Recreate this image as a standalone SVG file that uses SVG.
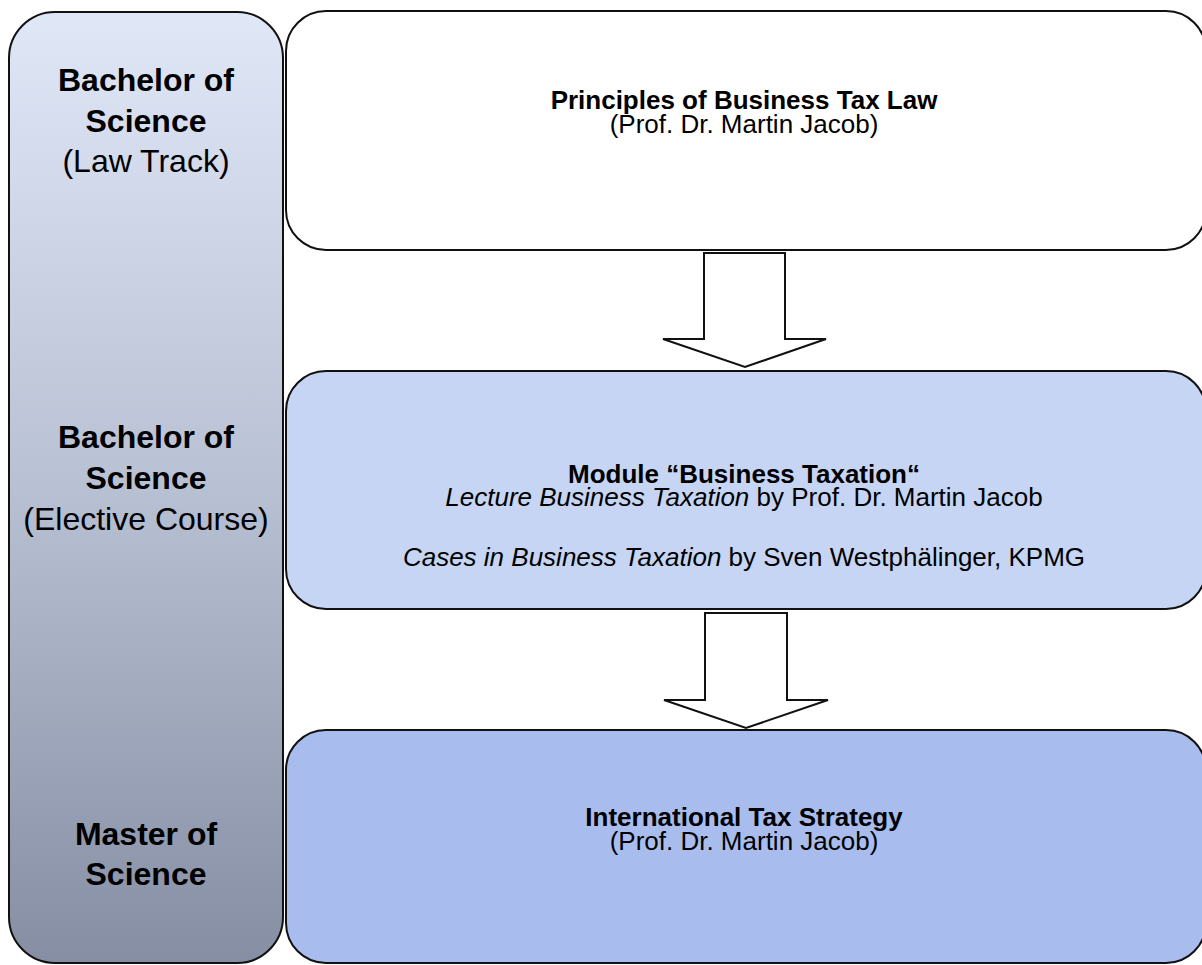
<svg xmlns="http://www.w3.org/2000/svg" width="1202" height="965" viewBox="0 0 1202 965">
<defs>
<linearGradient id="lg" x1="0" y1="0" x2="0" y2="1">
<stop offset="0" stop-color="#e0e7f7"/>
<stop offset="0.5" stop-color="#b8c0d3"/>
<stop offset="1" stop-color="#868ea4"/>
</linearGradient>
<style>
.box{stroke:#111;stroke-width:2}
.arrow{fill:#fff;stroke:#111;stroke-width:2;stroke-linejoin:miter}
text{font-family:"Liberation Sans",Arial,sans-serif;fill:#000;text-anchor:middle}
.lt{font-size:32px}
.rt{font-size:26px}
.b{font-weight:bold}
.i{font-style:italic}
</style>
</defs>
<rect width="1202" height="965" fill="#fff"/>
<g id="levels">
<rect class="box" x="9" y="12" width="274" height="951" rx="46" ry="46" fill="url(#lg)"/>
<text class="lt b" x="146" y="91">Bachelor of</text>
<text class="lt b" x="146" y="132">Science</text>
<text class="lt" x="146" y="172">(Law Track)</text>
<text class="lt b" x="146" y="448">Bachelor of</text>
<text class="lt b" x="146" y="489">Science</text>
<text class="lt" x="146" y="530">(Elective Course)</text>
<text class="lt b" x="146" y="845">Master of</text>
<text class="lt b" x="146" y="885">Science</text>
</g>
<g id="node-principles">
<rect class="box" x="286" y="11" width="920" height="239" rx="40" ry="40" fill="#fff"/>
<text class="rt b" x="744" y="109">Principles of Business Tax Law</text>
<text class="rt" x="744" y="133">(Prof. Dr. Martin Jacob)</text>
</g>
<g id="node-module">
<rect class="box" x="286" y="371" width="920" height="238" rx="40" ry="40" fill="#c6d5f3"/>
<text class="rt b" x="744" y="483">Module “Business Taxation“</text>
<text class="rt" x="744" y="506"><tspan class="i">Lecture Business Taxation</tspan> by Prof. Dr. Martin Jacob</text>
<text class="rt" x="744" y="566"><tspan class="i">Cases in Business Taxation</tspan> by Sven Westphälinger, KPMG</text>
</g>
<g id="node-its">
<rect class="box" x="286" y="730" width="920" height="233" rx="40" ry="40" fill="#a8bdee"/>
<text class="rt b" x="744" y="826">International Tax Strategy</text>
<text class="rt" x="744" y="850">(Prof. Dr. Martin Jacob)</text>
</g>
<g id="connectors">
<polygon class="arrow" points="704,253 785,253 785,339 826,339 745,367 663,339 704,339"/>
<polygon class="arrow" points="705,613 787,613 787,700 828,700 746,728 664,700 705,700"/>
</g>
</svg>
